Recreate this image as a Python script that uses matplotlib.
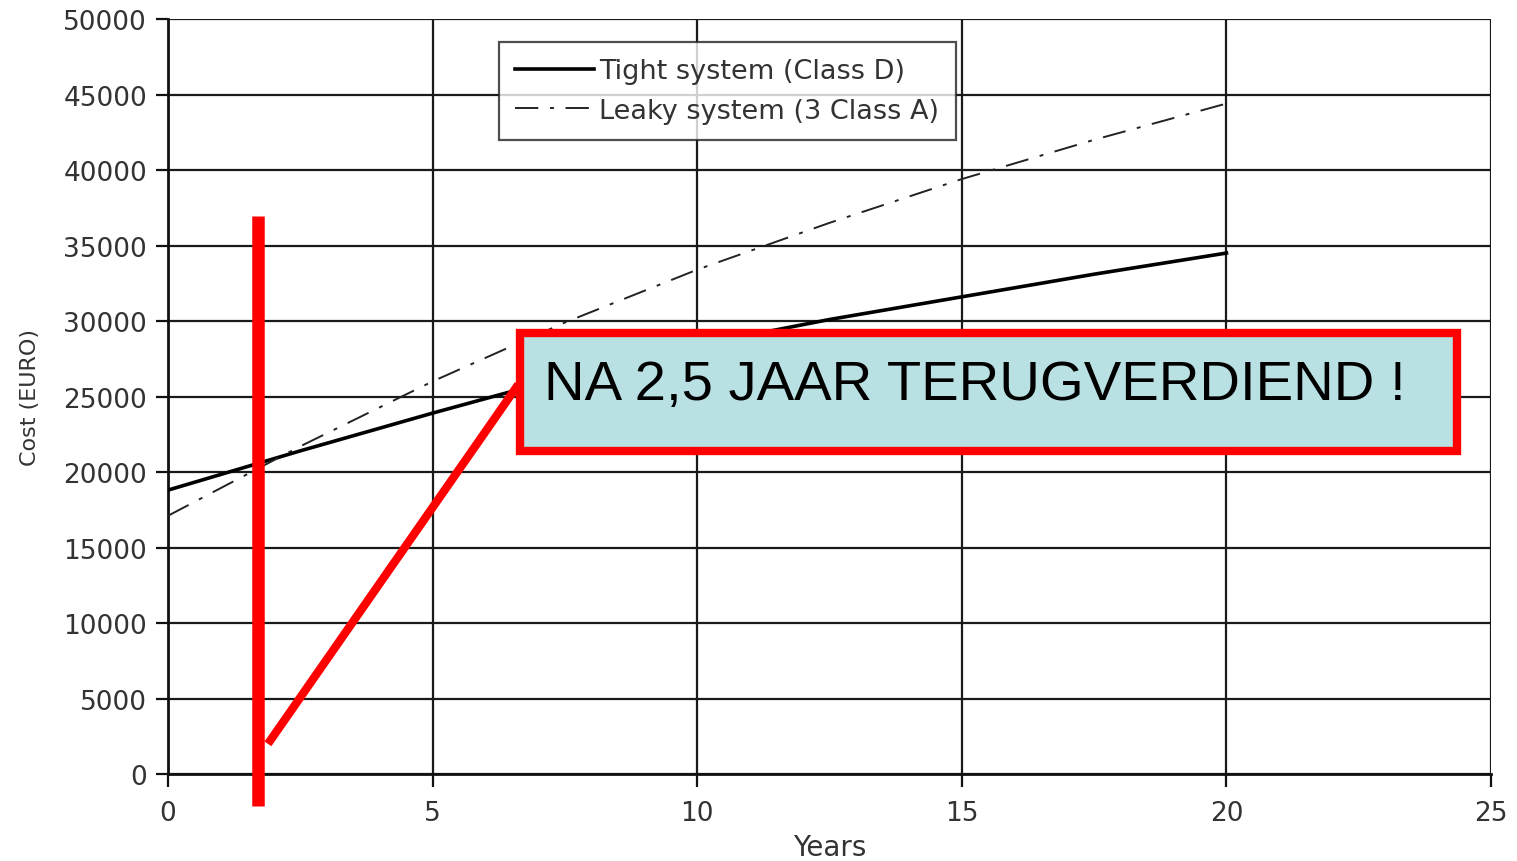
import matplotlib
matplotlib.use("Agg")
import matplotlib.pyplot as plt
from matplotlib.patches import Rectangle

plt.rcParams['font.family'] = ['DejaVu Sans']

years = [0, 2.5, 5, 7.5, 10, 12.5, 15, 17.5, 20]
tight_cost = [18800, 21400, 23900, 26300, 28400, 30100, 31600, 33100, 34500]
leaky_cost = [17100, 21700, 26000, 29900, 33400, 36500, 39400, 42000, 44400]

x_ticks = [0, 5, 10, 15, 20, 25]
y_ticks = list(range(0, 50001, 5000))

callout_text = "NA 2,5 JAAR TERUGVERDIEND !"

fig = plt.figure(figsize=(15.17, 8.62), dpi=100)
ax = fig.add_axes([0.1107, 0.1009, 0.9829 - 0.1107, 0.9768 - 0.1009])

ax.plot(years, tight_cost, color='black', lw=2.6, label='Tight system (Class D)', zorder=3)
ax.plot(years, leaky_cost, color='#222222', lw=1.4, dashes=(12, 6, 2, 6),
        label='Leaky system (3 Class A)', zorder=3)

ax.set_xlim(0, 25)
ax.set_ylim(0, 50000)
ax.set_xticks(x_ticks)
ax.set_yticks(y_ticks)
ax.grid(True, color='#1a1a1a', lw=1.6)
ax.set_axisbelow(True)
for side in ['top', 'right']:
    ax.spines[side].set_visible(False)
for side in ['left', 'bottom']:
    ax.spines[side].set_linewidth(2)
    ax.spines[side].set_color('#111111')
ax.tick_params(direction='out', length=9, width=1.6, color='#111111',
               labelsize=19, labelcolor='#333333', pad=6)
ax.tick_params(axis='x', pad=10)
ax.set_ylabel('Cost (EURO)', fontsize=16, color='#333333', labelpad=17)
ax.set_xlabel('Years', fontsize=20, color='#333333', labelpad=5)

leg = ax.legend(loc='upper left', bbox_to_anchor=(0.250, 0.9695), fontsize=19.5,
                frameon=True, fancybox=False, edgecolor='#222222',
                handlelength=2.9, handletextpad=0.22, borderpad=0.6,
                borderaxespad=0, labelspacing=0.5, labelcolor='#333333')
leg.get_frame().set_linewidth(1.6)

# red annotations drawn over the chart
ax.plot([1.70, 1.70], [36950, -2100], color='red', lw=9, clip_on=False,
        solid_capstyle='butt', zorder=5)
ax.plot([1.89, 6.62], [2000, 25800], color='red', lw=6, clip_on=False,
        solid_capstyle='butt', zorder=5)
box = Rectangle((6.66, 21400), 24.35 - 6.66, 29200 - 21400, facecolor='#b9e0e3',
                edgecolor='red', lw=6, zorder=6, clip_on=False)
ax.add_patch(box)
ax.text(7.1, 25750, callout_text, fontsize=40.5, color='black', va='center',
        ha='left', zorder=7, family=['Liberation Sans', 'DejaVu Sans'])

fig.savefig('out.png', dpi=100)
